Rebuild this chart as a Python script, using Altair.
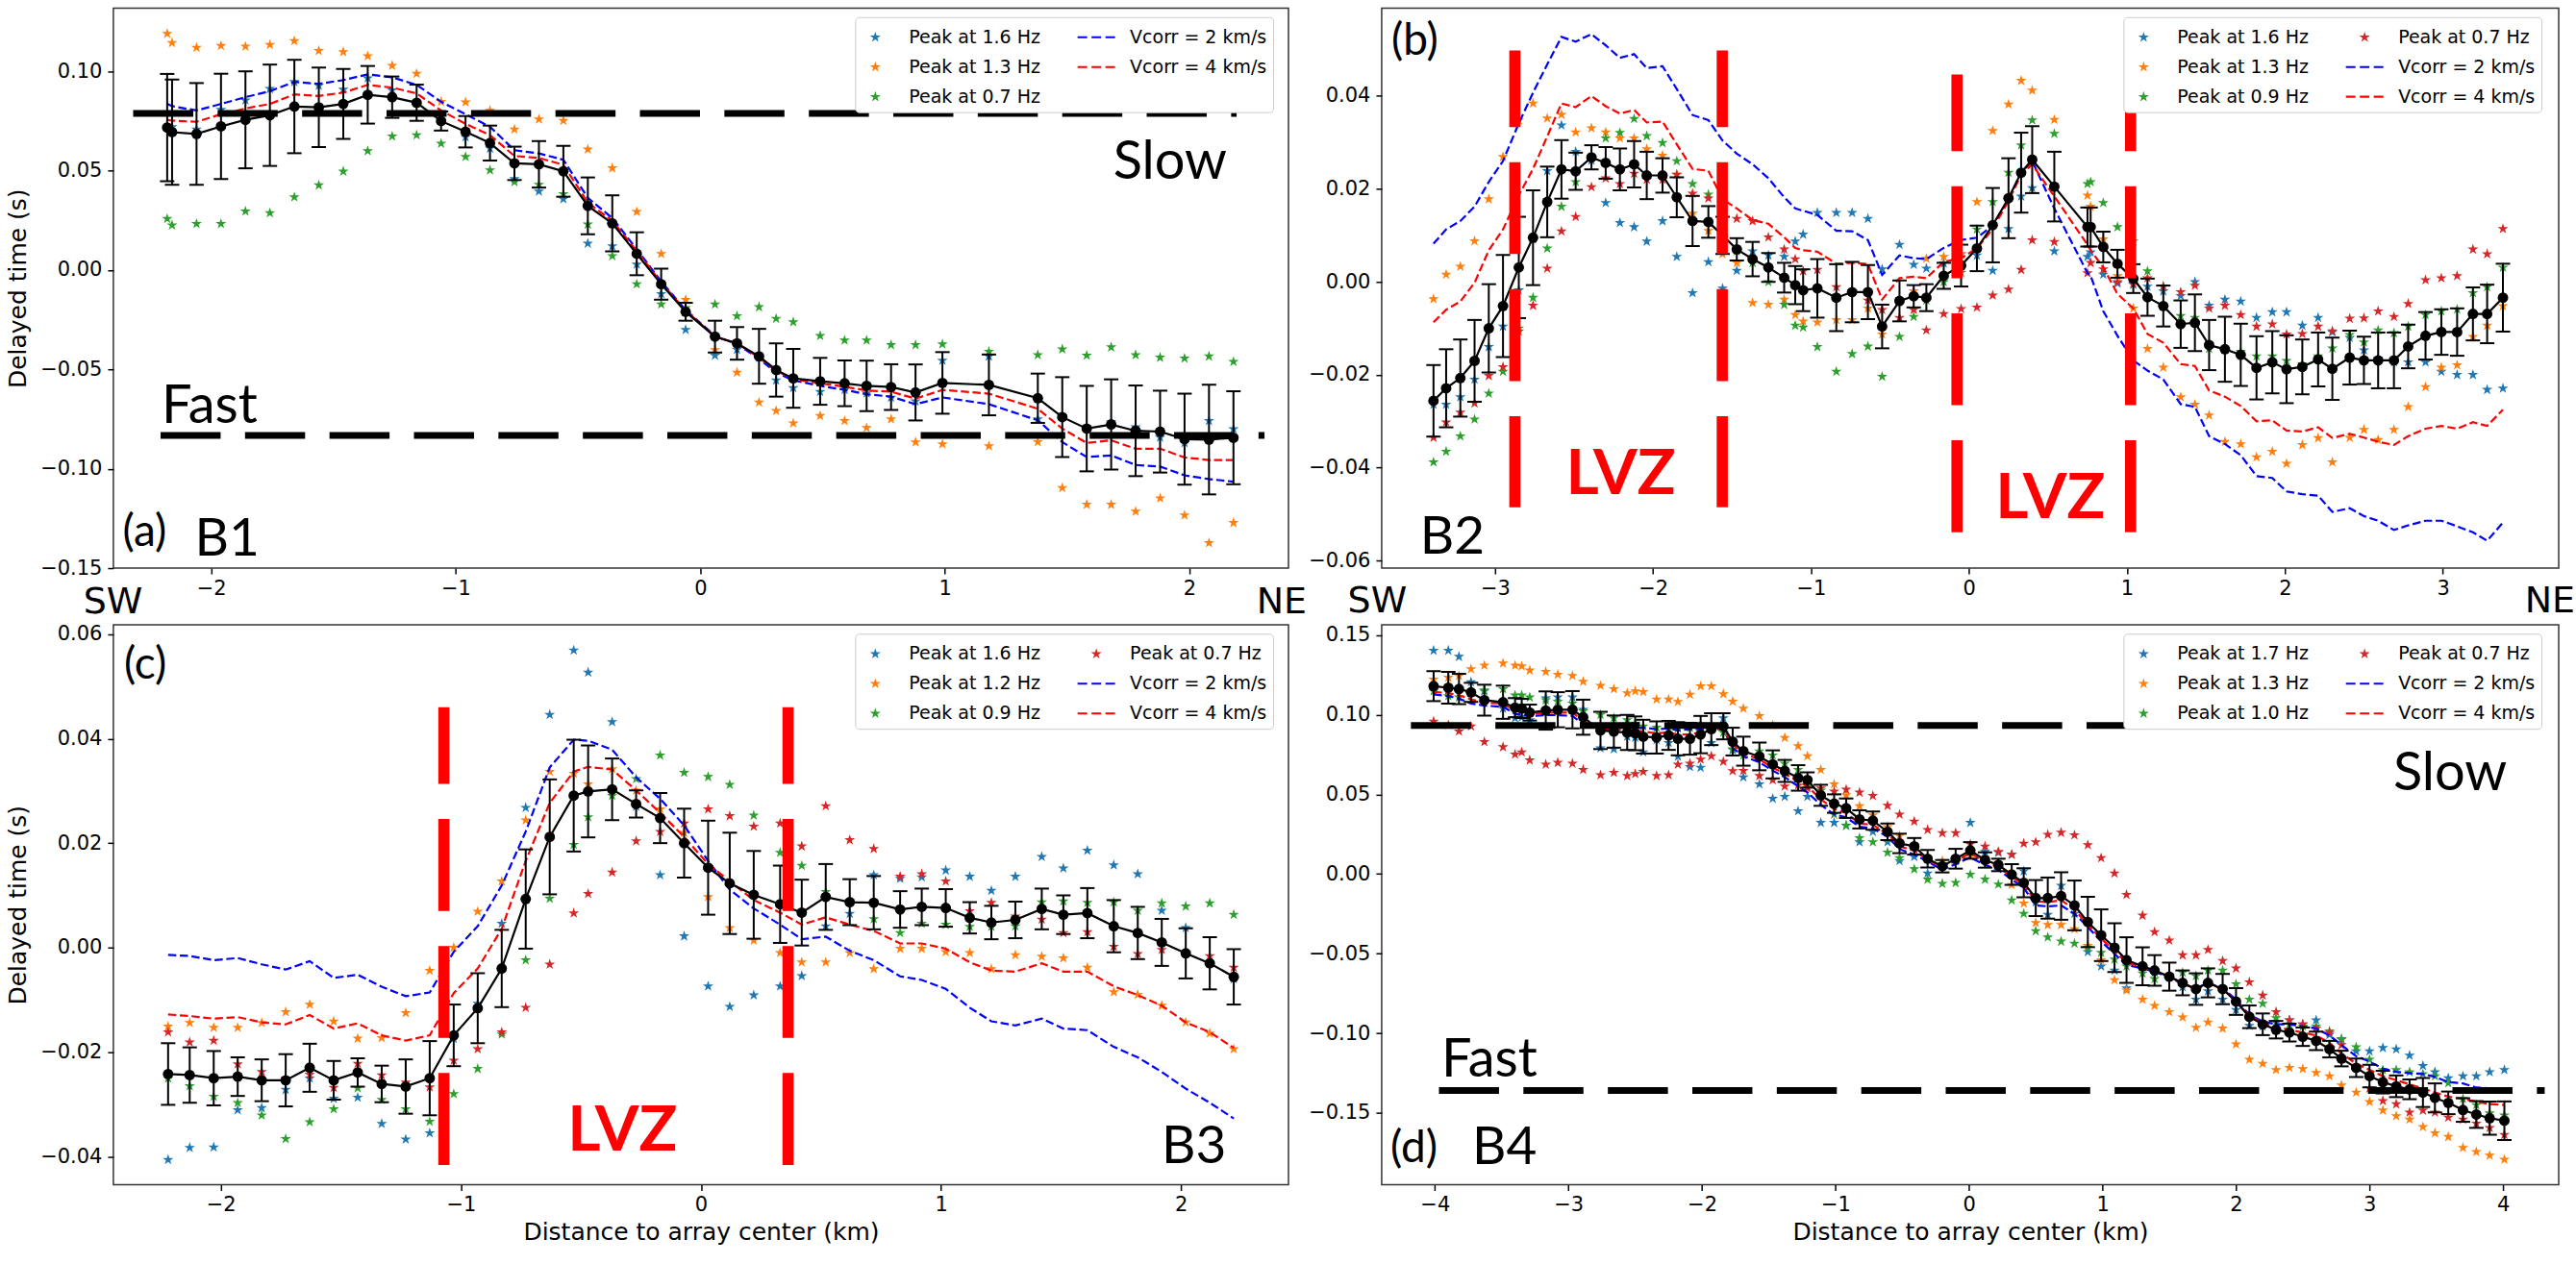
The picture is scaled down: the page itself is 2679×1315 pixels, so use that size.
import altair as alt
import pandas as pd

# ---------------- Profile B1 (panel a) ----------------
A_X = [-2.18, -2.16, -2.06, -1.96, -1.86, -1.76, -1.66, -1.56, -1.46, -1.36,
       -1.26, -1.16, -1.06, -0.96, -0.86, -0.76, -0.66, -0.56, -0.46, -0.36,
       -0.26, -0.16, -0.06, 0.06, 0.15, 0.24, 0.31, 0.38, 0.49, 0.59,
       0.68, 0.78, 0.88, 0.99, 1.18, 1.38, 1.48, 1.58, 1.68, 1.78,
       1.88, 1.98, 2.08, 2.18]
A_MEAN = [0.0717, 0.0694, 0.0685, 0.0723, 0.0756, 0.0779, 0.0823, 0.0819, 0.0836, 0.0882,
          0.0870, 0.0842, 0.0750, 0.0696, 0.0639, 0.0537, 0.0532, 0.0497, 0.0323, 0.0235,
          0.0082, -0.0071, -0.0210, -0.0335, -0.0369, -0.0434, -0.0503, -0.0545, -0.0560, -0.0570,
          -0.0583, -0.0589, -0.0616, -0.0568, -0.0578, -0.0645, -0.0740, -0.0798, -0.0777, -0.0809,
          -0.0813, -0.0851, -0.0853, -0.0844]
A_ERR = [0.027, 0.0265, 0.0256, 0.0265, 0.0244, 0.0255, 0.0235, 0.020, 0.0176, 0.0145,
         0.0104, 0.0091, 0.0048, 0.0079, 0.0088, 0.0084, 0.0117, 0.0128, 0.0143, 0.0141,
         0.0108, 0.0078, 0.0045, 0.008, 0.0082, 0.0138, 0.0134, 0.0148, 0.0118, 0.0115,
         0.0127, 0.0115, 0.0141, 0.0155, 0.0153, 0.0124, 0.0201, 0.0215, 0.0227, 0.0228,
         0.0206, 0.0229, 0.0276, 0.0234]
A_V2 = [0.0836, 0.0825, 0.0803, 0.0836, 0.087, 0.090, 0.0947, 0.0937, 0.0956, 0.0985,
        0.097, 0.0932, 0.0847, 0.0784, 0.0721, 0.0603, 0.0587, 0.0555, 0.0363, 0.0262,
        0.0105, -0.0057, -0.0201, -0.0331, -0.0373, -0.0446, -0.0516, -0.0555, -0.0583, -0.0603,
        -0.0625, -0.0637, -0.0675, -0.0641, -0.0675, -0.0756, -0.0866, -0.0941, -0.0933, -0.0981,
        -0.0989, -0.1033, -0.1052, -0.1065]
A_V4 = [0.0756, 0.0752, 0.0746, 0.0784, 0.0813, 0.0836, 0.0884, 0.0876, 0.0893, 0.0932,
        0.0918, 0.0889, 0.0803, 0.0736, 0.0679, 0.0574, 0.0564, 0.053, 0.0339, 0.0249,
        0.0096, -0.0063, -0.0205, -0.0335, -0.0369, -0.044, -0.0507, -0.0549, -0.057, -0.0587,
        -0.0606, -0.0612, -0.0647, -0.0603, -0.0622, -0.0698, -0.0798, -0.087, -0.0857, -0.0899,
        -0.0899, -0.0943, -0.0956, -0.0956]
A_P16 = [0.072, 0.072, 0.0708, 0.0807, 0.0855, 0.0912, 0.0947, 0.0928, 0.0909, 0.0966,
         0.0905, 0.084, 0.0775, 0.067, 0.0612, 0.0459, 0.0396, 0.0358, 0.0134, 0.012,
         0.0029, -0.012, -0.030, -0.043, -0.040, -0.044, -0.0555, -0.0593, -0.0612, -0.0603,
         -0.062, -0.0641, -0.066, -0.0455, -0.0434, -0.075, -0.0736, -0.079, -0.0765, -0.079,
         -0.0842, -0.087, -0.0759, -0.080]
A_P13 = [0.119, 0.1144, 0.1119, 0.1129, 0.1125, 0.1134, 0.1153, 0.1104, 0.1098, 0.1077,
         0.1029, 0.0989, 0.0847, 0.0845, 0.0803, 0.0708, 0.0759, 0.0752, 0.0608, 0.0513,
         0.0293, 0.0082, -0.0149, -0.0402, -0.0516, -0.0666, -0.0708, -0.0771, -0.0733, -0.0759,
         -0.0794, -0.075, -0.0866, -0.0876, -0.0886, -0.0865, -0.1096, -0.118, -0.118, -0.1215,
         -0.1148, -0.1234, -0.1373, -0.1272]
A_P07 = [0.0258, 0.0226, 0.0233, 0.0233, 0.0296, 0.0287, 0.0367, 0.0427, 0.0497, 0.0599,
         0.0673, 0.0679, 0.0637, 0.057, 0.0503, 0.0444, 0.043, 0.0383, 0.023, 0.0071,
         -0.0071, -0.0172, -0.019, -0.0172, -0.0231, -0.0186, -0.0245, -0.0262, -0.0331, -0.0354,
         -0.0354, -0.0377, -0.0377, -0.0373, -0.0411, -0.0427, -0.0398, -0.043, -0.0388, -0.0427,
         -0.044, -0.0444, -0.0434, -0.0461]

# ---------------- Profile B2 (panel b) ----------------
B_X = [-3.39, -3.31, -3.22, -3.13, -3.04, -2.95, -2.85, -2.76, -2.67, -2.58,
       -2.49, -2.39, -2.30, -2.21, -2.12, -2.04, -1.94, -1.85, -1.75, -1.65,
       -1.56, -1.47, -1.37, -1.27, -1.17, -1.10, -1.05, -0.96, -0.84, -0.74,
       -0.64, -0.55, -0.44, -0.35, -0.27, -0.16,
       -0.05, 0.05, 0.15, 0.25, 0.33, 0.40, 0.54, 0.75, 0.77, 0.85,
       0.94, 1.04, 1.13, 1.23, 1.34, 1.43, 1.52, 1.62, 1.72, 1.82,
       1.92, 2.01, 2.11, 2.21, 2.30, 2.41, 2.50, 2.59, 2.69, 2.78,
       2.89, 2.99, 3.09, 3.19, 3.28, 3.38]
B_MEAN = [-0.0256, -0.0229, -0.0207, -0.017, -0.010, -0.0052, 0.0031, 0.0095, 0.0172, 0.0242,
          0.0238, 0.0268, 0.0256, 0.0242, 0.0253, 0.0229, 0.0229, 0.0182, 0.0131, 0.0129,
          0.010, 0.007, 0.0049, 0.0031, 0.0009, -0.0007, -0.0018, -0.0014, -0.0034, -0.0022,
          -0.0022, -0.0096, -0.0041, -0.0031, -0.0034, 0.0013,
          0.0035, 0.0072, 0.0122, 0.018, 0.0235, 0.0263, 0.0205, 0.0118, 0.0118, 0.0075,
          0.0039, 0.0007, -0.0033, -0.0052, -0.0091, -0.0088, -0.0136, -0.0145, -0.0157, -0.0185,
          -0.0173, -0.0188, -0.0183, -0.0167, -0.0187, -0.0163, -0.0169, -0.0169, -0.0169, -0.0139,
          -0.0116, -0.0108, -0.0108, -0.0069, -0.0069, -0.0034]
B_ERR = [0.0077, 0.0084, 0.0083, 0.0088, 0.0095, 0.011, 0.0109, 0.0102, 0.0076, 0.0063,
         0.004, 0.0026, 0.0034, 0.0045, 0.005, 0.0051, 0.0037, 0.0043, 0.0054, 0.0034,
         0.004, 0.0024, 0.0037, 0.0031, 0.0032, 0.0041, 0.0045, 0.0063, 0.0072, 0.0065,
         0.0058, 0.0047, 0.0044, 0.0024, 0.0029, 0.0028,
         0.0045, 0.0049, 0.008, 0.0086, 0.0086, 0.0072, 0.0075, 0.0042, 0.0042, 0.0033,
         0.003, 0.0031, 0.004, 0.0044, 0.0051, 0.0061, 0.0054, 0.007, 0.0067, 0.0068,
         0.0067, 0.0073, 0.0059, 0.0058, 0.0067, 0.0058, 0.0051, 0.006, 0.006, 0.0047,
         0.0051, 0.0049, 0.0051, 0.0057, 0.0063, 0.0073]
B_V2 = [0.0082, 0.0113, 0.0131, 0.0162, 0.0215, 0.026, 0.0341, 0.0407, 0.0468, 0.0527,
        0.0517, 0.0533, 0.0509, 0.0482, 0.049, 0.046, 0.0464, 0.0415, 0.0359, 0.0348,
        0.0304, 0.0276, 0.0253, 0.0223, 0.0182, 0.0158, 0.0153, 0.0144, 0.011, 0.0109,
        0.009, 0.0015, 0.0057, 0.0051, 0.0049, 0.0073,
        0.009, 0.0095, 0.0121, 0.0178, 0.0235, 0.026, 0.0158, 0.0019, 0.0013, -0.0063,
        -0.0116, -0.0169, -0.0191, -0.021, -0.0263, -0.0269, -0.0332, -0.0349, -0.0373, -0.0418,
        -0.0422, -0.0451, -0.0457, -0.046, -0.0495, -0.0487, -0.0504, -0.0514, -0.0534, -0.0524,
        -0.0514, -0.0514, -0.0526, -0.0539, -0.0557, -0.0518]
B_V4 = [-0.0087, -0.006, -0.0042, -0.0002, 0.0068, 0.0113, 0.0186, 0.0243, 0.0313, 0.0384,
        0.0376, 0.04, 0.0378, 0.0362, 0.037, 0.0343, 0.0345, 0.0296, 0.0243, 0.0239,
        0.0178, 0.0158, 0.0133, 0.0125, 0.0096, 0.0073, 0.0068, 0.0065, 0.0039, 0.0041,
        0.0038, -0.0038, 0.0008, 0.0011, 0.0008, 0.0043,
        0.0051, 0.0072, 0.0114, 0.0174, 0.0231, 0.0253, 0.0184, 0.008, 0.0068, 0.0031,
        -0.0026, -0.0057, -0.0112, -0.0131, -0.0177, -0.0181, -0.0234, -0.0247, -0.0267, -0.03,
        -0.0298, -0.032, -0.0322, -0.0313, -0.0336, -0.0327, -0.0335, -0.0344, -0.0351, -0.0332,
        -0.0316, -0.031, -0.0316, -0.0302, -0.031, -0.0275]
B_P16 = [-0.0264, -0.0264, -0.0248, -0.021, -0.014, -0.0096, -0.0018, 0.0092, 0.0239, 0.0337,
         0.028, 0.0261, 0.017, 0.0127, 0.0118, 0.0087, 0.0131, 0.0054, -0.0024, 0.0043,
         -0.0014, 0.0024, 0.0066, 0.0057, 0.0054, 0.0087, 0.0102, 0.0149, 0.0149, 0.0149,
         0.0136, 0.0027, 0.008, 0.0037, 0.0029, 0.004,
         0.006, 0.0057, 0.0024, 0.0114, 0.0184, 0.0202, 0.0066, 0.0054, 0.0064, 0.0016,
         -0.0003, -0.0006, -0.001, -0.002, -0.003, 0.0, -0.0051, -0.0038, -0.0042, -0.0077,
         -0.0065, -0.0065, -0.0094, -0.0077, -0.0108, -0.012, -0.0147, -0.0165, -0.0173, -0.0173,
         -0.0173, -0.0193, -0.02, -0.02, -0.0232, -0.0229]
B_P13 = [-0.0037, 0.0016, 0.0033, 0.0088, 0.0178, 0.0269, 0.0348, 0.0384, 0.0352, 0.036,
         0.0322, 0.0331, 0.0322, 0.0309, 0.0309, 0.0286, 0.0272, 0.0231, 0.0147, 0.011,
         0.006, 0.0041, -0.0045, -0.0049, -0.0038, -0.0071, -0.0085, -0.0087, -0.0082, -0.0082,
         -0.0057, -0.0113, -0.004, -0.002, 0.005, 0.0054,
         0.006, 0.0172, 0.0325, 0.0382, 0.0433, 0.0412, 0.0349, 0.0186, 0.0162, 0.0092,
         0.0013, -0.0057, -0.0144, -0.0184, -0.0248, -0.0264, -0.0287, -0.0344, -0.0349, -0.0377,
         -0.0365, -0.0391, -0.0351, -0.0336, -0.0388, -0.0335, -0.0318, -0.034, -0.0318, -0.0269,
         -0.0226, -0.0184, -0.0179, -0.0118, -0.0094, -0.0052]
B_P09 = [-0.0388, -0.0365, -0.0332, -0.0296, -0.024, -0.0193, -0.01, -0.0034, 0.0072, 0.0162,
         0.0215, 0.0268, 0.0309, 0.0321, 0.0351, 0.0314, 0.0299, 0.026, 0.0211, 0.0188,
         0.012, 0.0066, 0.0041, 0.0, -0.0049, -0.0094, -0.0098, -0.014, -0.0193, -0.0155,
         -0.0139, -0.0204, -0.0118, -0.0075, -0.004, 0.0,
         0.002, 0.0113, 0.0172, 0.0235, 0.0294, 0.0348, 0.0319, 0.0211, 0.0215, 0.017,
         0.0118, 0.0087, 0.0023, -0.001, -0.0073, -0.0077, -0.0144, -0.0145, -0.015, -0.016,
         -0.016, -0.017, -0.0177, -0.016, -0.0143, -0.0114, -0.013, -0.0104, -0.011, -0.0096,
         -0.0071, -0.0063, -0.0059, -0.0024, -0.0011, 0.0031]
B_P07 = [-0.0335, -0.0302, -0.0281, -0.0261, -0.0202, -0.0183, -0.0106, -0.0051, 0.0029, 0.0109,
         0.014, 0.0204, 0.0223, 0.0211, 0.0233, 0.022, 0.022, 0.0231, 0.019, 0.018,
         0.015, 0.0136, 0.0131, 0.0096, 0.007, 0.0049, 0.0023, 0.0026, -0.0011, -0.002,
         -0.004, -0.006, -0.0077, -0.006, -0.0104, -0.0069,
         -0.0058, -0.0055, -0.0029, -0.0016, 0.0026, 0.009, 0.0086, 0.0019, 0.0041, 0.0027,
         0.0, -0.0003, 0.0008, -0.001, -0.0022, -0.0008, -0.0057, -0.0051, -0.0071, -0.0096,
         -0.0091, -0.0113, -0.0112, -0.0096, -0.0106, -0.0079, -0.0078, -0.0063, -0.0075, -0.0047,
         0.0004, 0.0008, 0.0013, 0.007, 0.006, 0.0114]

# ---------------- Profile B3 (panel c) ----------------
C_X = [-2.22, -2.13, -2.03, -1.93, -1.83, -1.73, -1.63, -1.53, -1.43, -1.33,
       -1.23, -1.13, -1.03, -0.93, -0.83, -0.73, -0.63, -0.53, -0.47, -0.37,
       -0.27, -0.17,
       -0.07, 0.03, 0.12, 0.22, 0.33, 0.42, 0.52, 0.62, 0.72, 0.83,
       0.92, 1.02, 1.12, 1.21, 1.31, 1.42, 1.51, 1.61, 1.72, 1.82,
       1.92, 2.02, 2.12, 2.22]
C_MEAN = [-0.0242, -0.0244, -0.025, -0.0247, -0.0254, -0.0254, -0.023, -0.0254, -0.0239, -0.0261,
          -0.0266, -0.025, -0.0168, -0.0116, -0.004, 0.0093, 0.0212, 0.0291, 0.0299, 0.0303,
          0.0275, 0.0248,
          0.02, 0.0153, 0.0123, 0.0101, 0.0083, 0.0067, 0.0097, 0.0087, 0.0086, 0.0073,
          0.0078, 0.0076, 0.0057, 0.0048, 0.0053, 0.0074, 0.0063, 0.0066, 0.0041, 0.0028,
          0.001, -0.0011, -0.003, -0.0056]
C_ERR = [0.0059, 0.0053, 0.0052, 0.0037, 0.004, 0.005, 0.0046, 0.0037, 0.0027, 0.0035,
         0.0052, 0.0071, 0.0059, 0.0067, 0.0074, 0.0095, 0.011, 0.0107, 0.0088, 0.0059,
         0.0026, 0.0048,
         0.0066, 0.009, 0.0097, 0.0084, 0.0074, 0.0063, 0.0063, 0.0044, 0.0051, 0.0035,
         0.0035, 0.0036, 0.003, 0.0032, 0.0035, 0.0039, 0.0037, 0.0048, 0.005, 0.005,
         0.0045, 0.0048, 0.005, 0.0053]
C_V2 = [-0.0014, -0.0016, -0.0024, -0.002, -0.0032, -0.0042, -0.0026, -0.0058, -0.0052, -0.0075,
        -0.0093, -0.0086, -0.0008, 0.0041, 0.0119, 0.0222, 0.0345, 0.0398, 0.0396, 0.0379,
        0.0326, 0.0285,
        0.0234, 0.0166, 0.0111, 0.0075, 0.0044, 0.0016, 0.0021, -0.0006, -0.0024, -0.0055,
        -0.0062, -0.0079, -0.0115, -0.0141, -0.0149, -0.0136, -0.0155, -0.0158, -0.019, -0.021,
        -0.0238, -0.027, -0.0297, -0.0327]
C_V4 = [-0.0128, -0.0131, -0.0136, -0.0133, -0.0143, -0.0147, -0.0129, -0.0155, -0.0145, -0.0168,
        -0.0178, -0.0168, -0.0087, -0.004, 0.0036, 0.0166, 0.0277, 0.0337, 0.0346, 0.0341,
        0.0301, 0.0258,
        0.0212, 0.016, 0.0127, 0.0091, 0.0067, 0.0044, 0.0058, 0.0044, 0.0032, 0.0008,
        0.0008, -0.0002, -0.0028, -0.0044, -0.0046, -0.003, -0.0046, -0.0046, -0.0074, -0.0091,
        -0.0111, -0.0143, -0.0162, -0.0192]
C_P16 = [-0.0406, -0.0383, -0.0382, -0.0311, -0.0307, -0.0272, -0.025, -0.0289, -0.0287, -0.0337,
         -0.0367, -0.0355, -0.0174, -0.0107, 0.0046, 0.0268, 0.0446, 0.0569, 0.0527, 0.0432,
         0.027, 0.0139,
         0.0022, -0.0074, -0.0113, -0.0091, -0.0074, -0.0054, 0.0041, 0.0065, 0.0139, 0.0132,
         0.0135, 0.0148, 0.0136, 0.0109, 0.0136, 0.0174, 0.0152, 0.0186, 0.0158, 0.0141,
         0.0071, 0.0038, -0.003, -0.006]
C_P12 = [-0.0151, -0.0144, -0.0153, -0.0153, -0.0144, -0.0123, -0.0109, -0.0141, -0.0174, -0.0173,
         -0.0125, -0.0044, 0.0, 0.0069, 0.0127, 0.0244, 0.0337, 0.0333, 0.0313, 0.0342,
         0.0301, 0.0265,
         0.022, 0.0097, 0.0038, 0.0014, -0.001, -0.0028, -0.0028, -0.001, -0.0041, -0.0002,
         -0.0002, -0.0008, -0.001, -0.0041, -0.0014, -0.0017, -0.002, -0.0038, -0.0085, -0.009,
         -0.0111, -0.0143, -0.0164, -0.0194]
C_P09 = [-0.025, -0.0265, -0.0285, -0.0297, -0.0321, -0.0366, -0.0334, -0.0309, -0.0269, -0.0291,
         -0.0309, -0.0333, -0.028, -0.0232, -0.0166, -0.0024, 0.0094, 0.0197, 0.025, 0.0291,
         0.0323, 0.0368,
         0.0335, 0.0327, 0.0312, 0.0253, 0.0182, 0.0157, 0.0107, 0.009, 0.0055, 0.0028,
         0.0046, 0.0044, 0.004, 0.004, 0.0041, 0.0087, 0.0089, 0.0086, 0.0087, 0.0071,
         0.0085, 0.0079, 0.0085, 0.0063]
C_P07 = [-0.0162, -0.0181, -0.0178, -0.0223, -0.0238, -0.025, -0.0243, -0.0268, -0.0222, -0.0244,
         -0.0258, -0.0267, -0.0216, -0.0194, -0.0162, -0.0115, -0.0032, 0.0066, 0.0103, 0.0144,
         0.0204, 0.0222,
         0.0238, 0.0265, 0.0252, 0.0232, 0.0238, 0.0194, 0.0271, 0.0206, 0.0189, 0.0136,
         0.0141, 0.0127, 0.007, 0.0086, 0.006, 0.0054, 0.0028, 0.003, 0.0002, -0.0012,
         -0.0004, -0.001, -0.0016, -0.0038]

# ---------------- Profile B4 (panel d) ----------------
D_X = [-4.01, -3.90, -3.82, -3.73, -3.63, -3.49, -3.40, -3.35, -3.29, -3.17,
       -3.08, -2.97, -2.89, -2.76, -2.66, -2.56, -2.50, -2.44, -2.34, -2.25,
       -2.18, -2.09, -2.01, -1.93, -1.84, -1.77, -1.69, -1.57, -1.47, -1.38,
       -1.28, -1.21, -1.11, -1.01, -0.92, -0.82, -0.72, -0.61, -0.52, -0.41,
       -0.31, -0.20,
       -0.10, 0.01, 0.12, 0.22, 0.32, 0.41, 0.50, 0.59, 0.69, 0.79,
       0.89, 0.99, 1.09, 1.18, 1.30, 1.39, 1.50, 1.60, 1.70, 1.79,
       1.90, 2.00, 2.10, 2.20, 2.30, 2.40, 2.50, 2.60, 2.70, 2.79,
       2.90, 3.00, 3.10, 3.20, 3.30, 3.40, 3.49, 3.59, 3.70, 3.80,
       3.90, 4.01]
D_MEAN = [0.1179, 0.1169, 0.1161, 0.114, 0.1091, 0.1078, 0.1044, 0.1039, 0.1013, 0.1026,
          0.1031, 0.1031, 0.0984, 0.0901, 0.0894, 0.0888, 0.0883, 0.0862, 0.0857, 0.087,
          0.0849, 0.0849, 0.0875, 0.0909, 0.0927, 0.0831, 0.0771, 0.0738, 0.0688, 0.0647,
          0.0603, 0.059, 0.0494, 0.0442, 0.0413, 0.0343, 0.0335, 0.0265, 0.0192, 0.0174,
          0.0096, 0.0049,
          0.0096, 0.0148, 0.0088, 0.0057, -0.0003, -0.0055, -0.0151, -0.0151, -0.0138, -0.0197,
          -0.0301, -0.0384, -0.0462, -0.054, -0.0579, -0.0605, -0.0644, -0.0683, -0.0722, -0.0683,
          -0.0722, -0.08, -0.0896, -0.0943, -0.0977, -0.0995, -0.1021, -0.1047, -0.1099, -0.1158,
          -0.1216, -0.1268, -0.1306, -0.1332, -0.1351, -0.1371, -0.1405, -0.1436, -0.1481, -0.1509,
          -0.1532, -0.1548]
D_ERR = [0.0094, 0.01, 0.0095, 0.006, 0.0097, 0.0104, 0.006, 0.006, 0.005, 0.012,
         0.011, 0.0117, 0.011, 0.0117, 0.0101, 0.011, 0.0106, 0.0106, 0.0101, 0.0091,
         0.0104, 0.01, 0.0117, 0.01, 0.0082, 0.0087, 0.0091, 0.0087, 0.0088, 0.0069,
         0.008, 0.0048, 0.0066, 0.0058, 0.0061, 0.0057, 0.0058, 0.0052, 0.0061, 0.0052,
         0.0055, 0.0039,
         0.0062, 0.0052, 0.0048, 0.0039, 0.0065, 0.0091, 0.0113, 0.0129, 0.0149, 0.0156,
         0.0158, 0.0162, 0.0153, 0.0143, 0.0119, 0.0096, 0.0088, 0.0078, 0.0099, 0.0091,
         0.0095, 0.0084, 0.0071, 0.0068, 0.0055, 0.0056, 0.0058, 0.0058, 0.0052, 0.0049,
         0.0058, 0.0071, 0.0071, 0.0068, 0.0062, 0.0091, 0.0091, 0.0071, 0.0074, 0.0084,
         0.0104, 0.0121]
D_V2 = [0.1127, 0.1117, 0.1101, 0.107, 0.1057, 0.1049, 0.1005, 0.1, 0.0992, 0.0997,
        0.0997, 0.0992, 0.094, 0.0914, 0.0914, 0.0919, 0.0914, 0.0919, 0.0909, 0.0914,
        0.0901, 0.0909, 0.0909, 0.0909, 0.0909, 0.079, 0.074, 0.0701, 0.0649, 0.0608,
        0.0551, 0.0512, 0.0434, 0.0374, 0.0356, 0.0296, 0.0286, 0.0234, 0.0156, 0.0122,
        0.0078, 0.0026,
        0.0062, 0.0104, 0.0057, 0.0026, -0.0034, -0.0086, -0.0197, -0.0203, -0.0197, -0.0249,
        -0.0332, -0.0423, -0.0501, -0.0571, -0.0592, -0.0613, -0.0649, -0.0691, -0.0717, -0.0683,
        -0.0717, -0.0787, -0.0883, -0.0925, -0.0943, -0.0943, -0.0956, -0.0969, -0.1013, -0.1073,
        -0.1143, -0.1177, -0.1221, -0.1242, -0.1249, -0.1255, -0.1273, -0.1306, -0.1314, -0.134,
        -0.1345, -0.135]
D_V4 = [0.1143, 0.1135, 0.1122, 0.1096, 0.1075, 0.107, 0.1023, 0.1018, 0.1005, 0.1013,
        0.1013, 0.1013, 0.0961, 0.0909, 0.0904, 0.0906, 0.0899, 0.0894, 0.0883, 0.0888,
        0.0875, 0.0878, 0.0888, 0.0901, 0.0914, 0.0816, 0.0758, 0.0719, 0.0668, 0.0629,
        0.0582, 0.0551, 0.0468, 0.0408, 0.0382, 0.0317, 0.0309, 0.0252, 0.0174, 0.0148,
        0.0088, 0.0044,
        0.0083, 0.013, 0.0078, 0.0044, -0.0016, -0.0068, -0.0171, -0.0177, -0.0164, -0.0223,
        -0.0319, -0.0405, -0.0483, -0.0556, -0.0587, -0.061, -0.0644, -0.0686, -0.0722, -0.0691,
        -0.0722, -0.0795, -0.0891, -0.0935, -0.0961, -0.0977, -0.0995, -0.1013, -0.106, -0.1125,
        -0.119, -0.1229, -0.1268, -0.1294, -0.132, -0.1345, -0.1371, -0.1397, -0.141, -0.1429,
        -0.1444, -0.1449]
D_P17 = [0.1403, 0.1403, 0.1364, 0.1205, 0.1148, 0.1039, 0.0979, 0.0984, 0.0966, 0.1104,
         0.1109, 0.1109, 0.1031, 0.079, 0.0784, 0.0862, 0.0857, 0.0764, 0.0842, 0.0823,
         0.0738, 0.0673, 0.0668, 0.0823, 0.0979, 0.0779, 0.0608, 0.0564, 0.0473, 0.0486,
         0.0395, 0.0486, 0.0322, 0.0322, 0.0304, 0.02, 0.0265, 0.02, 0.0083, 0.0109,
         0.0005, 0.0062,
         0.008, 0.0322, 0.014, 0.0135, 0.0122, 0.0018, -0.0177, -0.0255, -0.0073, -0.0249,
         -0.0488, -0.0579, -0.0605, -0.0717, -0.0579, -0.0618, -0.0649, -0.0709, -0.0787, -0.0735,
         -0.0787, -0.0852, -0.0951, -0.0956, -0.093, -0.0917, -0.0943, -0.0917, -0.1008, -0.1039,
         -0.1112, -0.1112, -0.1091, -0.1099, -0.1138, -0.1203, -0.1242, -0.1281, -0.1268, -0.1268,
         -0.1242, -0.1229]
D_P13 = [0.1221, 0.1234, 0.1244, 0.1286, 0.1309, 0.1322, 0.1309, 0.1304, 0.1278, 0.127,
         0.1252, 0.1244, 0.1208, 0.1182, 0.1161, 0.1135, 0.1148, 0.1143, 0.1096, 0.1096,
         0.1081, 0.1127, 0.1179, 0.1179, 0.113, 0.1083, 0.1039, 0.0992, 0.0935, 0.0855,
         0.0803, 0.074, 0.0655, 0.0564, 0.0494, 0.0426, 0.0369, 0.0296, 0.0239, 0.0179,
         0.0096, 0.0083,
         0.0104, 0.0114, 0.0101, 0.007, -0.0068, -0.0184, -0.0306, -0.0319, -0.0319, -0.0345,
         -0.0449, -0.054, -0.0665, -0.073, -0.0787, -0.0826, -0.0865, -0.0899, -0.0964, -0.093,
         -0.0969, -0.1068, -0.1164, -0.119, -0.1229, -0.1216, -0.1223, -0.1247, -0.1268, -0.1325,
         -0.1371, -0.1429, -0.1483, -0.1519, -0.154, -0.1587, -0.1626, -0.1649, -0.1717, -0.1743,
         -0.1766, -0.1792]
D_P10 = [0.1148, 0.1117, 0.1109, 0.1148, 0.1153, 0.1161, 0.1122, 0.1122, 0.1109, 0.1091,
         0.1083, 0.107, 0.1023, 0.1, 0.0979, 0.0966, 0.0945, 0.0927, 0.0919, 0.0906,
         0.0914, 0.0919, 0.094, 0.0927, 0.0888, 0.0784, 0.0745, 0.0771, 0.0745, 0.0694,
         0.0655, 0.0551, 0.0525, 0.0374, 0.0304, 0.0226, 0.02, 0.0135, 0.0101, 0.0031,
         -0.0034, -0.006,
         -0.0055, -0.0003, -0.0034, -0.0065, -0.0164, -0.0249, -0.0358, -0.0397, -0.0423, -0.0436,
         -0.0462, -0.0494, -0.0535, -0.0579, -0.0623, -0.0657, -0.0639, -0.0618, -0.0639, -0.0605,
         -0.0605, -0.0691, -0.0787, -0.0813, -0.0904, -0.0943, -0.0956, -0.0956, -0.0987, -0.1034,
         -0.1086, -0.1164, -0.1229, -0.1229, -0.1242, -0.1255, -0.1268, -0.1312, -0.141, -0.1449,
         -0.1501, -0.1514]
D_P07 = [0.0958, 0.0935, 0.0896, 0.0927, 0.0829, 0.0797, 0.0751, 0.0764, 0.0714, 0.0688,
         0.0699, 0.0694, 0.0655, 0.0621, 0.0636, 0.0616, 0.0629, 0.0642, 0.0616, 0.0621,
         0.0688, 0.0694, 0.0719, 0.074, 0.0706, 0.0647, 0.0649, 0.0616, 0.059, 0.0551,
         0.0556, 0.0538, 0.0538, 0.0519, 0.053, 0.0512, 0.0491, 0.0429, 0.0374, 0.033,
         0.0278, 0.0257,
         0.0257, 0.0187, 0.0174, 0.014, 0.0122, 0.0192, 0.02, 0.0247, 0.026, 0.0244,
         0.0182, 0.0101, 0.0005, -0.013, -0.026, -0.0364, -0.0416, -0.0509, -0.0509, -0.0475,
         -0.0545, -0.0592, -0.0678, -0.0761, -0.0865, -0.0917, -0.0943, -0.0969, -0.0995, -0.1073,
         -0.1216, -0.1345, -0.1423, -0.1444, -0.1496, -0.1483, -0.1496, -0.1527, -0.154, -0.1566,
         -0.1592, -0.1636]

# ---------------- reference lines (data units) ----------------
A_HL_Y = [0.0788, -0.0832]
A_HL_X0 = [-2.319, -2.207]
A_HL_X1 = [2.193, 2.307]
D_HL_Y = [0.0932, -0.1358]
D_HL_X0 = [-4.18, -3.97]
D_HL_X1 = [4.103, 4.312]
B_VB_X = [-2.875, -1.562, -0.076, 1.023]
B_VB_TOP = [0.0498, 0.0498, 0.0446, 0.0446]
B_VB_BOT = [-0.0485, -0.0485, -0.0539, -0.0539]
C_VB_X = [-1.071, 0.363]
C_VB_TOP = [0.046, 0.046]
C_VB_BOT = [-0.0416, -0.0416]

# ---------------- annotations ----------------
A_TXT = ["Slow", "Fast", "(a)", "B1", "SW", "NE"]
A_TXT_KIND = ["big", "big", "tag", "name", "dir", "dir"]
A_TXT_X = [1.688, -2.203, -2.362, -2.067, -2.523, 2.274]
A_TXT_Y = [0.0459, -0.0771, -0.1387, -0.1435, -0.1727, -0.1727]
B_TXT = ["(b)", "B2", "LVZ", "LVZ", "SW", "NE"]
B_TXT_KIND = ["tag", "name", "lvz", "lvz", "dir", "dir"]
B_TXT_X = [-3.657, -3.475, -2.204, 0.515, -3.933, 3.518]
B_TXT_Y = [0.0488, -0.0584, -0.0457, -0.0509, -0.0711, -0.0711]
C_TXT = ["(c)", "LVZ", "B3"]
C_TXT_KIND = ["tag", "lvz", "name"]
C_TXT_X = [-2.404, -0.327, 1.919]
C_TXT_Y = [0.0515, -0.0388, -0.0412]
D_TXT = ["(d)", "B4", "Fast", "Slow"]
D_TXT_KIND = ["tag", "name", "big", "big"]
D_TXT_X = [-4.334, -3.722, -3.952, 3.178]
D_TXT_Y = [-0.1808, -0.1818, -0.1273, 0.0525]

V2_LABEL = "Vcorr = 2 km/s"
V4_LABEL = "Vcorr = 4 km/s"

T_BLUE, T_ORANGE, T_GREEN, T_RED = "#1f77b4", "#ff7f0e", "#2ca02c", "#d62728"

# Five-pointed star; two sub-pixel specks at the sides give it the same
# horizontal extent as the dash sample, so all legend entries line up.
STAR = ("M0,-0.4L0.0898,-0.1236L0.3804,-0.1236L0.1453,0.0472L0.2351,0.3236"
        "L0,0.1528L-0.2351,0.3236L-0.1453,0.0472L-0.3804,-0.1236L-0.0898,-0.1236Z"
        "M-1.33,0L-1.329,0L-1.329,0.001Z"
        "M1.33,0L1.329,0L1.329,0.001Z")
DASH = ("M-1.33,-0.075H-0.65V0.075H-1.33Z"
        "M-0.34,-0.075H0.34V0.075H-0.34Z"
        "M0.65,-0.075H1.33V0.075H0.65Z")
SYMBOL_AREA = 860

TEXT_STYLE = {
    "big": dict(font="Lato", fontSize=56, color="black", align="left"),
    "tag": dict(font="Lato", fontSize=46, color="black", align="left"),
    "name": dict(font="Lato", fontSize=55, color="black", align="left"),
    "lvz": dict(font="Lato", fontSize=66, fontWeight="bold", color="#ff0000", align="center"),
    "dir": dict(font="DejaVu Sans", fontSize=38, color="black", align="left"),
}


def build_panel(x, mean, err, v2, v4, stars, xdom, ydom, xticks, yticks,
                width, height, ytitle, xtitle, txt, hlines=None, vbars=None):
    xs = alt.Scale(domain=xdom, nice=False, zero=False)
    ys = alt.Scale(domain=ydom, nice=False, zero=False)
    xaxis = alt.Axis(values=xticks, format="d", title=xtitle)
    yaxis = alt.Axis(values=yticks, format=".2f", title=ytitle)

    def X(f):
        return alt.X(f, type="quantitative", scale=xs, axis=xaxis)

    def Y(f):
        return alt.Y(f, type="quantitative", scale=ys, axis=yaxis)

    main = pd.DataFrame({"x": x, "mean": mean, "err": err, "v2": v2, "v4": v4})
    star_rows = []
    order, colours, shapes = [], [], []
    for label, vals, col in stars:
        order.append(label)
        colours.append(col)
        shapes.append(STAR)
        star_rows.append(pd.DataFrame({"x": x, "v": vals, "s": label}))
    order += [V2_LABEL, V4_LABEL]
    colours += ["blue", "red"]
    shapes += [DASH, DASH]
    star_df = pd.concat(star_rows, ignore_index=True)

    leg = alt.Legend(title=None, orient="none", legendX=772, legendY=9.3, columns=2,
                     direction="vertical",
                     labelFont="DejaVu Sans", labelFontSize=19, labelColor="black",
                     labelLimit=400, symbolSize=SYMBOL_AREA, symbolStrokeWidth=0,
                     symbolOpacity=1, labelOffset=20,
                     columnPadding=38, rowPadding=6, padding=6,
                     fillColor="white", strokeColor="#cccccc", cornerRadius=4)

    layers = []
    layers.append(
        alt.Chart(star_df).mark_point(filled=True, size=SYMBOL_AREA, opacity=1, strokeWidth=0).encode(
            x=X("x"), y=Y("v"),
            color=alt.Color("s:N", scale=alt.Scale(domain=order, range=colours), legend=leg),
            shape=alt.Shape("s:N", scale=alt.Scale(domain=order, range=shapes), legend=leg),
        )
    )
    base = alt.Chart(main)
    layers.append(base.mark_line(color="blue", strokeWidth=2.2, strokeDash=[8.5, 3.7])
                  .encode(x=X("x"), y=Y("v2")))
    layers.append(base.mark_line(color="red", strokeWidth=2.2, strokeDash=[8.5, 3.7])
                  .encode(x=X("x"), y=Y("v4")))
    bars = base.transform_calculate(lo="datum.mean - datum.err", hi="datum.mean + datum.err")
    layers.append(bars.mark_rule(color="black", strokeWidth=2)
                  .encode(x=X("x"), y=Y("lo"), y2=alt.Y2("hi:Q")))
    layers.append(bars.mark_tick(color="black", orient="horizontal", size=15, thickness=2, opacity=1)
                  .encode(x=X("x"), y=Y("lo")))
    layers.append(bars.mark_tick(color="black", orient="horizontal", size=15, thickness=2, opacity=1)
                  .encode(x=X("x"), y=Y("hi")))
    layers.append(base.mark_line(color="black", strokeWidth=2.2).encode(x=X("x"), y=Y("mean")))
    layers.append(base.mark_circle(color="black", size=120, opacity=1).encode(x=X("x"), y=Y("mean")))

    if hlines is not None:
        hl = pd.DataFrame({"x0": hlines[0], "x1": hlines[1], "y": hlines[2]})
        layers.append(alt.Chart(hl).mark_rule(color="black", strokeWidth=7, strokeDash=[62.5, 25.4])
                      .encode(x=X("x0"), x2=alt.X2("x1:Q"), y=Y("y")))
    if vbars is not None:
        vb = pd.DataFrame({"x": vbars[0], "top": vbars[1], "bot": vbars[2]})
        layers.append(alt.Chart(vb).mark_rule(color="#ff0000", strokeWidth=11.6,
                                              strokeDash=[95.7, 36.5], strokeDashOffset=15.9)
                      .encode(x=X("x"), y=Y("top"), y2=alt.Y2("bot:Q")))

    tdf = pd.DataFrame({"t": txt[0], "k": txt[1], "x": txt[2], "y": txt[3]})
    for kind, style in TEXT_STYLE.items():
        sub = tdf[tdf["k"] == kind]
        if len(sub) == 0:
            continue
        layers.append(alt.Chart(sub).mark_text(baseline="alphabetic", **style)
                      .encode(x=X("x"), y=Y("y"), text="t:N"))

    return alt.layer(*layers).properties(width=width, height=height)


pa = build_panel(
    A_X, A_MEAN, A_ERR, A_V2, A_V4,
    [("Peak at 1.6 Hz", A_P16, T_BLUE), ("Peak at 1.3 Hz", A_P13, T_ORANGE),
     ("Peak at 0.7 Hz", A_P07, T_GREEN)],
    [-2.40, 2.405], [-0.15, 0.1318], [-2, -1, 0, 1, 2],
    [-0.15, -0.10, -0.05, 0.0, 0.05, 0.10], 1223, 583,
    "Delayed time (s)", None, (A_TXT, A_TXT_KIND, A_TXT_X, A_TXT_Y),
    hlines=(A_HL_X0, A_HL_X1, A_HL_Y))

pb = build_panel(
    B_X, B_MEAN, B_ERR, B_V2, B_V4,
    [("Peak at 1.6 Hz", B_P16, T_BLUE), ("Peak at 1.3 Hz", B_P13, T_ORANGE),
     ("Peak at 0.9 Hz", B_P09, T_GREEN), ("Peak at 0.7 Hz", B_P07, T_RED)],
    [-3.718, 3.733], [-0.0616, 0.0589], [-3, -2, -1, 0, 1, 2, 3],
    [-0.06, -0.04, -0.02, 0.0, 0.02, 0.04], 1225, 583,
    None, None, (B_TXT, B_TXT_KIND, B_TXT_X, B_TXT_Y),
    vbars=(B_VB_X, B_VB_TOP, B_VB_BOT))

pc = build_panel(
    C_X, C_MEAN, C_ERR, C_V2, C_V4,
    [("Peak at 1.6 Hz", C_P16, T_BLUE), ("Peak at 1.2 Hz", C_P12, T_ORANGE),
     ("Peak at 0.9 Hz", C_P09, T_GREEN), ("Peak at 0.7 Hz", C_P07, T_RED)],
    [-2.448, 2.448], [-0.0454, 0.0618], [-2, -1, 0, 1, 2],
    [-0.04, -0.02, 0.0, 0.02, 0.04, 0.06], 1223, 583,
    "Delayed time (s)", "Distance to array center (km)", (C_TXT, C_TXT_KIND, C_TXT_X, C_TXT_Y),
    vbars=(C_VB_X, C_VB_TOP, C_VB_BOT))

pd_ = build_panel(
    D_X, D_MEAN, D_ERR, D_V2, D_V4,
    [("Peak at 1.7 Hz", D_P17, T_BLUE), ("Peak at 1.3 Hz", D_P13, T_ORANGE),
     ("Peak at 1.0 Hz", D_P10, T_GREEN), ("Peak at 0.7 Hz", D_P07, T_RED)],
    [-4.399, 4.417], [-0.195, 0.1564], [-4, -3, -2, -1, 0, 1, 2, 3, 4],
    [-0.15, -0.10, -0.05, 0.0, 0.05, 0.10, 0.15], 1225, 583,
    None, "Distance to array center (km)", (D_TXT, D_TXT_KIND, D_TXT_X, D_TXT_Y),
    hlines=(D_HL_X0, D_HL_X1, D_HL_Y))

chart = (
    alt.concat(pa, pb, pc, pd_, columns=2, spacing={"row": 59, "column": 97}, bounds="flush")
    .resolve_scale(x="independent", y="independent", color="independent", shape="independent")
    .resolve_legend(color="independent", shape="independent")
    .properties(padding={"left": 5, "top": 7, "right": 0, "bottom": 0}, background="white")
    .configure_view(stroke="#333333", strokeWidth=1.5)
    .configure_axis(labelFont="DejaVu Sans", labelFontSize=21, labelColor="black",
                    titleFont="DejaVu Sans", titleFontSize=25, titleFontWeight="normal",
                    titleColor="black", tickColor="black", tickSize=6, tickWidth=1.5,
                    domain=False, grid=False)
    .configure_axisX(labelPadding=4, titlePadding=6)
    .configure_axisY(labelPadding=6, titlePadding=10)
)

chart.save("out.html", embed_options={"renderer": "svg", "actions": False})
